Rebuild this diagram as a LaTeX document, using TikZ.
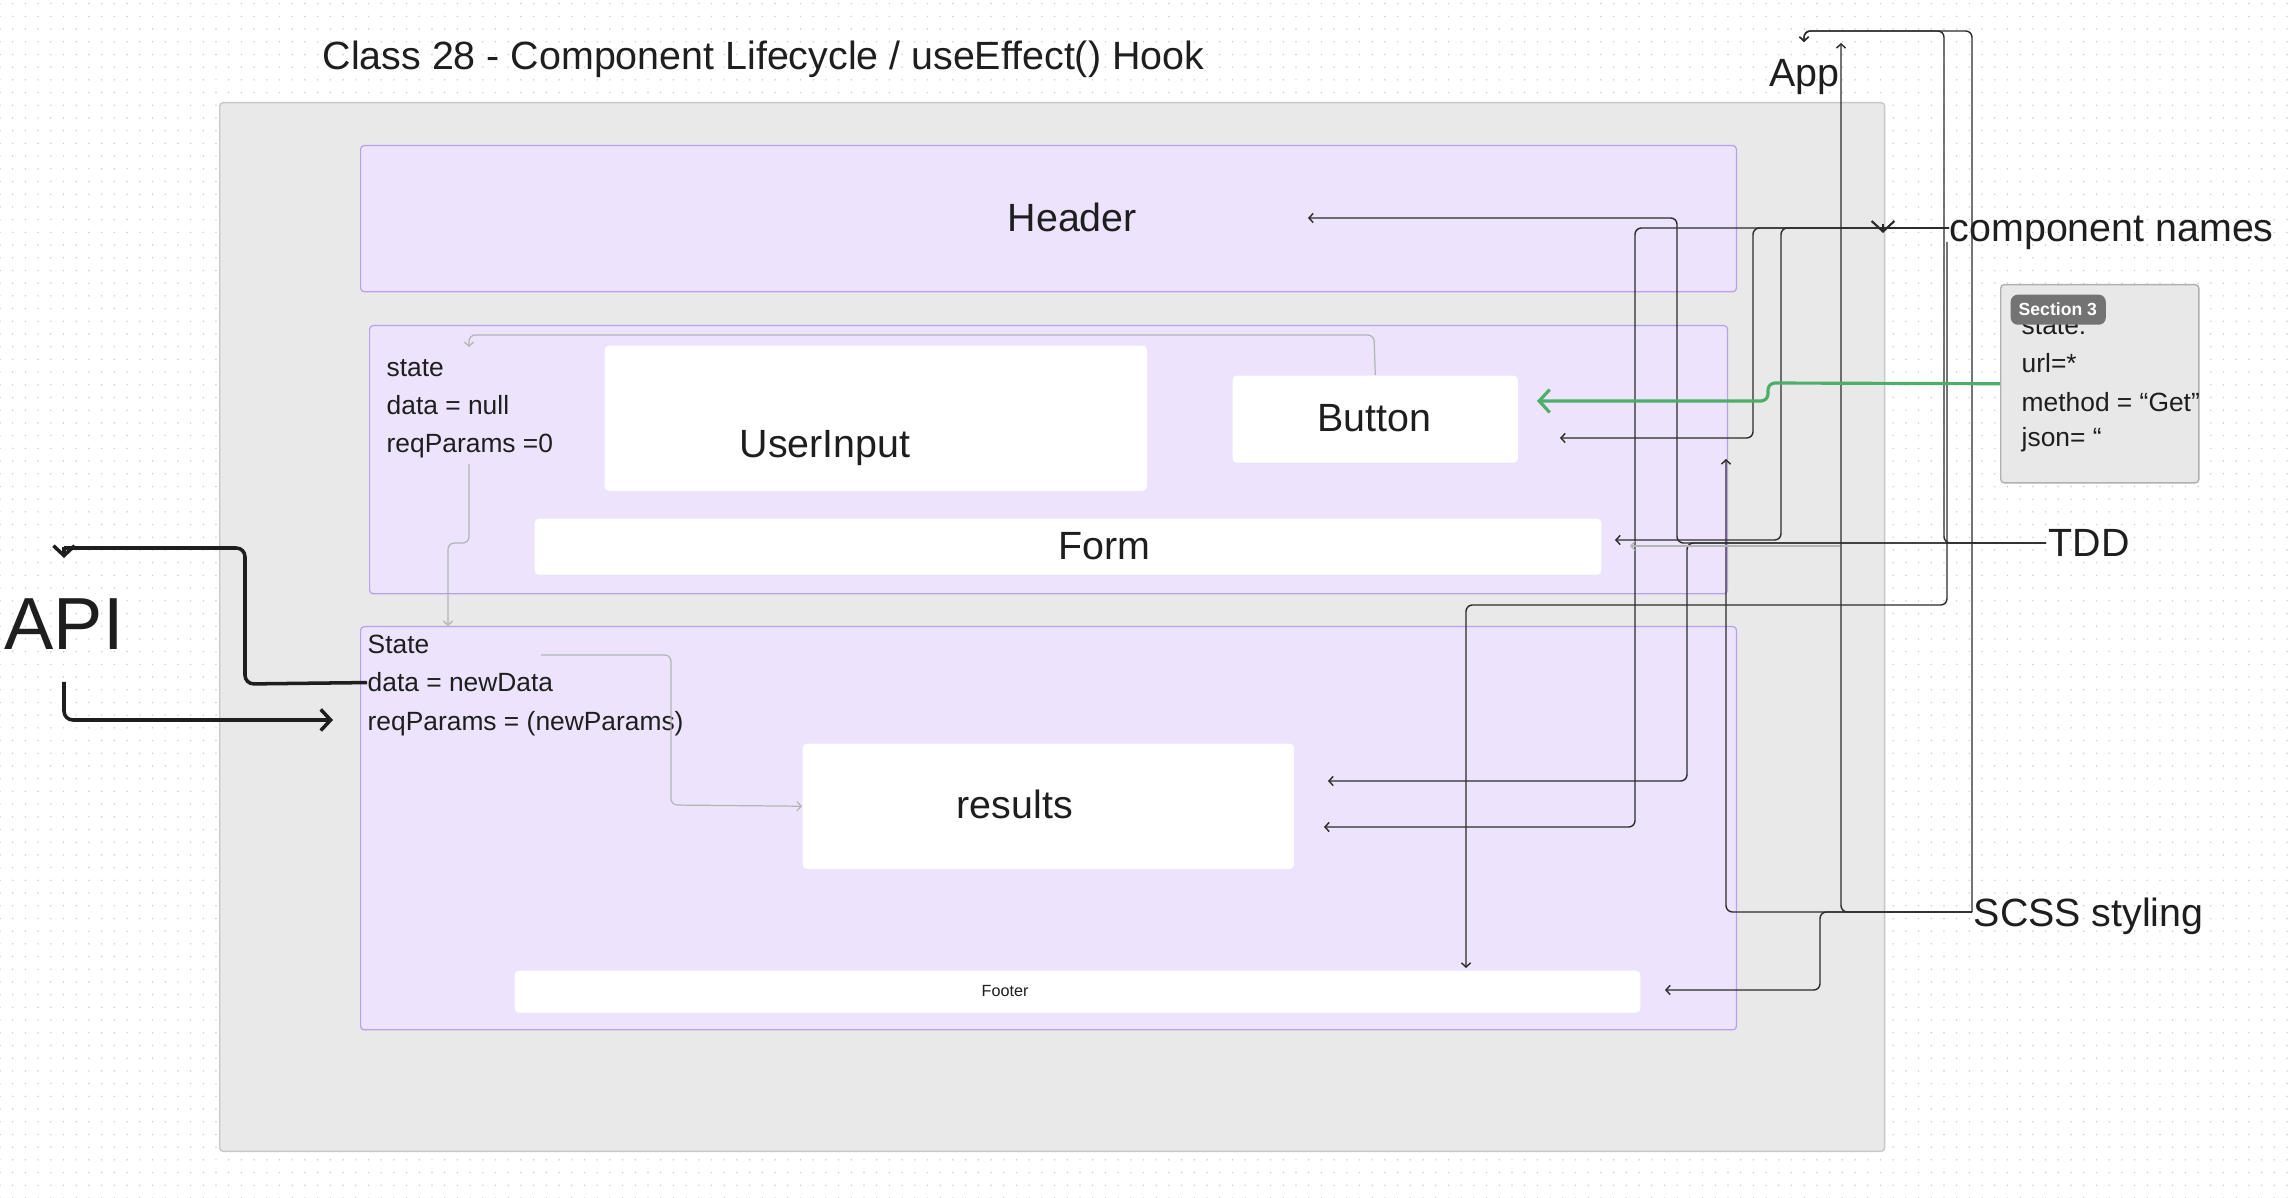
\documentclass[tikz,border=0pt]{standalone}
\usepackage{fontspec}
\setmainfont{Liberation Sans}
\usetikzlibrary{arrows.meta}
\usetikzlibrary{patterns.meta}

\definecolor{ink}{HTML}{1E1E1E}
\definecolor{wirecol}{HTML}{2B2B2B}
\definecolor{faintcol}{HTML}{B4B4B4}
\definecolor{appfill}{HTML}{E9E9E9}
\definecolor{appline}{HTML}{C8C8C8}
\definecolor{lavfill}{HTML}{EDE3FC}
\definecolor{lavline}{HTML}{B9A0F0}
\definecolor{notefill}{HTML}{E8E8E8}
\definecolor{noteline}{HTML}{B0B0B0}
\definecolor{badgefill}{HTML}{737373}
\definecolor{dotcol}{HTML}{CCCCCC}
\definecolor{arrowgreen}{HTML}{4CAF68}

\tikzdeclarepattern{
  name=dotgrid,
  type=uncolored,
  bottom left={(-0.5pt,-0.5pt)},
  top right={(3.1pt,3.1pt)},
  tile size={(3.613pt,3.613pt)},
  code={\fill (0pt,0pt) circle (0.24pt);}
}

\tikzset{
  biglabel/.style={font=\fontsize{11.2}{13}\selectfont, text=ink, inner sep=0pt, anchor=base west},
  smalltext/.style={font=\fontsize{7.5}{9}\selectfont, text=ink, inner sep=0pt, anchor=base west},
  appbox/.style={draw=appline, fill=appfill, line width=0.4pt, rounded corners=1pt, inner sep=0pt, anchor=north west},
  lavbox/.style={draw=lavline, fill=lavfill, line width=0.35pt, rounded corners=1pt, inner sep=0pt, anchor=north west},
  whitebox/.style={fill=white, rounded corners=1.2pt, inner sep=0pt, anchor=north west},
  wire/.style={draw=wirecol, line width=0.4pt, rounded corners=1.8pt, -{Straight Barb[length=1.2pt,width=2.6pt]}},
  faint/.style={draw=faintcol, line width=0.35pt, rounded corners=1.8pt, -{Straight Barb[length=1.2pt,width=2.6pt]}},
  apiline/.style={draw=ink, line width=1pt, rounded corners=2.5pt},
  apiwire/.style={apiline, -{Straight Barb[length=2.8pt,width=6pt]}},
  greenwire/.style={draw=arrowgreen, line width=0.9pt, rounded corners=2pt, -{Straight Barb[length=3pt,width=6.5pt]}}
}

\begin{document}
\begin{tikzpicture}[x=0.01cm,y=-0.01cm]
\useasboundingbox (0,0) rectangle (2294,1198);
\fill[white] (0,0) rectangle (2294,1198);
\fill[pattern=dotgrid, pattern color=dotcol] (0,0) rectangle (2294,1198);

\node[biglabel] (title) at (322,70) {Class 28 - Component Lifecycle / useEffect() Hook};

\node[appbox, minimum width=16.64cm, minimum height=10.48cm] (app) at (219,102) {};

\node[lavbox, minimum width=13.75cm, minimum height=1.46cm] (header) at (360,145) {};
\node[lavbox, minimum width=13.57cm, minimum height=2.68cm] (formSection) at (369,325) {};
\node[lavbox, minimum width=13.75cm, minimum height=4.03cm] (resultsSection) at (360,626) {};

\node[whitebox, minimum width=5.42cm, minimum height=1.45cm] (userInput) at (604,345) {};
\node[whitebox, minimum width=2.85cm, minimum height=0.87cm] (button) at (1232,375) {};
\node[whitebox, minimum width=10.66cm, minimum height=0.56cm] (form) at (534,518) {};
\node[whitebox, minimum width=4.91cm, minimum height=1.25cm] (results) at (802,743) {};
\node[whitebox, minimum width=11.25cm, minimum height=0.42cm] (footer) at (514,970) {};

\node[biglabel] (headerText) at (1007,232) {Header};
\node[biglabel] (userInputText) at (739,458) {UserInput};
\node[biglabel] (buttonText) at (1317,432) {Button};
\node[biglabel] (formText) at (1058,560) {Form};
\node[biglabel] (resultsText) at (956,819) {results};
\node[font=\fontsize{4.6}{6}\selectfont, text=ink, inner sep=0pt, anchor=base west] (footerText) at (981,997) {Footer};

\node[smalltext] (stateA) at (386,377) {state};
\node[smalltext] (dataNull) at (386,415) {data = null};
\node[smalltext] (reqZero) at (386,453) {reqParams =0};

\node[smalltext] (stateB) at (367,654) {State};
\node[smalltext] (dataNew) at (367,692) {data = newData};
\node[smalltext] (reqNew) at (367,731) {reqParams = (newParams)};

\node[biglabel] (appText) at (1769,87) {App};
\node[biglabel] (cnText) at (1949,242) {component names};
\node[biglabel] (tddText) at (2048,557) {TDD};
\node[biglabel] (scssText) at (1973,926) {SCSS styling};

\node[font=\fontsize{21}{24}\selectfont, text=ink, inner sep=0pt, anchor=base west] (api) at (4,650) {API};

\node[draw=noteline, fill=notefill, line width=0.4pt, rounded corners=1pt, inner sep=0pt, anchor=north west, minimum width=1.98cm, minimum height=1.98cm] (note) at (2000,284) {};
\node[smalltext] (noteState) at (2021,335) {state:};
\node[smalltext] (noteUrl) at (2021,373) {url=*};
\node[smalltext] (noteMethod) at (2021,412) {method = “Get”};
\node[smalltext] (noteJson) at (2021,447) {json= “};
\node[fill=badgefill, rounded corners=2pt, inner sep=0pt, anchor=north west, minimum width=0.95cm, minimum height=0.30cm] (badge) at (2010,294) {};
\node[font=\bfseries\fontsize{5}{6}\selectfont, text=white, inner sep=0pt, anchor=base west] (badgeText) at (2018,316) {Section 3};

\coordinate (cnOut) at (1949,228);
\coordinate (cnDown) at (1947,242);
\coordinate (tddOut) at (2046,543);
\coordinate (scssOut) at (1972,912);
\coordinate (faintOut) at (1840,546);
\coordinate (appIn) at (1804,42);
\coordinate (appIn2) at (1841,43);
\coordinate (appBoxIn) at (1883,233);
\coordinate (headerIn) at (1308,218);
\coordinate (btnIn) at (1560,438);
\coordinate (btnGreenIn) at (1537,401);
\coordinate (formIn) at (1615,540);
\coordinate (formIn2) at (1630,546);
\coordinate (sectionIn) at (1726,459);
\coordinate (resIn) at (1328,781);
\coordinate (resIn2) at (1324,827);
\coordinate (footIn) at (1466,968);
\coordinate (footIn2) at (1665,990);
\coordinate (stateIn) at (469,347);
\coordinate (reqOut) at (469,464);
\coordinate (stateIn2) at (448,626);
\coordinate (dataOut) at (541,655);
\coordinate (apiTop) at (64,558);
\coordinate (apiBottom) at (64,682);
\coordinate (stateIn3) at (333,720);

\draw[wire] (cnOut) -- (1635,228) -- (1635,827) -- (resIn2);
\draw[wire] (cnOut) -- (1753,228) -- (1753,438) -- (btnIn);
\draw[wire] (cnOut) -- (1781,228) -- (1781,540) -- (formIn);
\draw[wire,-] (cnOut) -- (1883,228);
\draw[wire, line width=0.6pt, -{Straight Barb[length=3pt,width=6.5pt]}] (1883,224) -- (appBoxIn);
\draw[wire] (cnDown) -- (1947,605) -- (1466,605) -- (footIn);

\draw[wire] (tddOut) -- (1677,543) -- (1677,218) -- (headerIn);
\draw[wire] (tddOut) -- (1687,543) -- (1687,781) -- (resIn);
\draw[wire] (tddOut) -- (1944,543) -- (1944,31) -- (1804,31) -- (appIn);

\draw[wire] (scssOut) -- (1972,31) -- (1804,31) -- (appIn);
\draw[wire] (scssOut) -- (1841,912) -- (appIn2);
\draw[wire] (scssOut) -- (1820,912) -- (1820,990) -- (footIn2);
\draw[wire] (scssOut) -- (1726,912) -- (sectionIn);
\draw[faint] (faintOut) -- (formIn2);

\draw[faint] (button.north) -- (1374,335) -- (469,335) -- (stateIn);
\draw[faint] (reqOut) -- (469,543) -- (448,543) -- (stateIn2);
\draw[faint] (dataOut) -- (671,655) -- (671,805) -- (results.west);

\draw[greenwire] (note.west) -- (1768,383) -- (1768,401) -- (btnGreenIn);

\draw[apiline] (dataNew.west) -- (245,684) -- (245,548) -- (64,548);
\draw[apiwire] (64,547) -- (apiTop);
\draw[apiwire] (apiBottom) -- (64,720) -- (stateIn3);

\end{tikzpicture}
\end{document}
